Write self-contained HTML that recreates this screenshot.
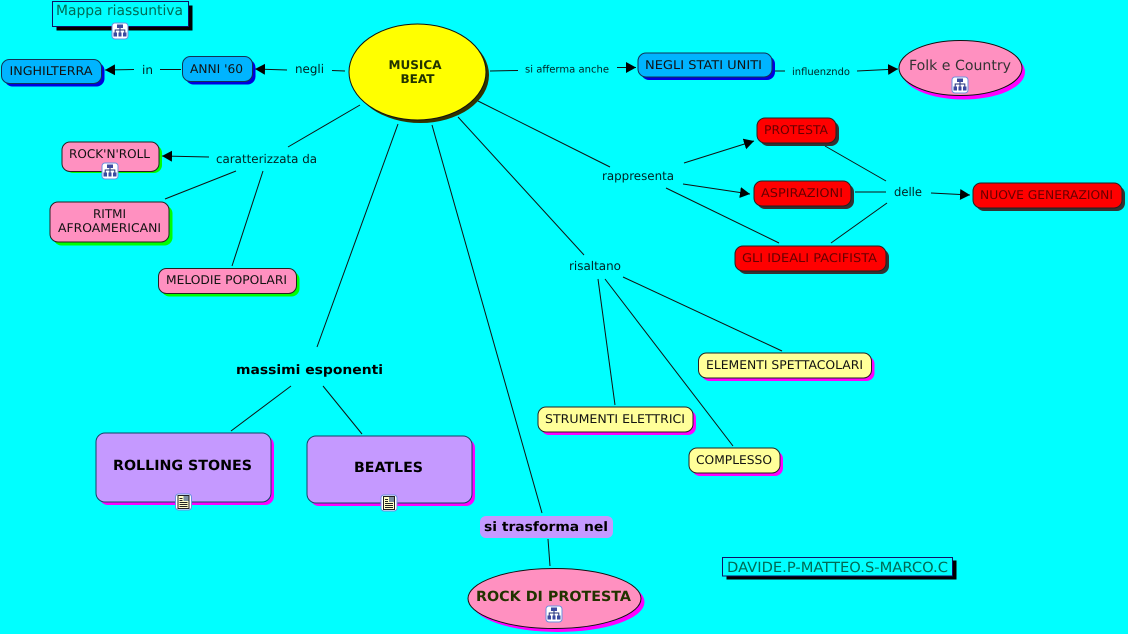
<!DOCTYPE html>
<html><head><meta charset="utf-8"><style>
html,body{margin:0;padding:0;background:#0ff;width:1128px;height:634px;overflow:hidden}
svg{display:block}
text{font-family:"DejaVu Sans",sans-serif;font-size:12px;fill:#111;text-anchor:middle;text-rendering:geometricPrecision}
.l{fill:#022}
.b{font-weight:bold;fill:#000}
line{stroke:#111;stroke-width:1}
.n{stroke:#222;stroke-width:1}
</style></head><body>
<svg width="1128" height="634" viewBox="0 0 1128 634" xmlns="http://www.w3.org/2000/svg">
<defs>
<marker id="a" markerUnits="userSpaceOnUse" markerWidth="12" markerHeight="12" refX="10" refY="5.500" orient="auto"><path d="M0 0L10 5.500L0 11Z" fill="#000"/></marker>
<g id="m"><rect x="-8" y="-8" width="16" height="16" rx="3" fill="#fff" stroke="#6a8fe0"/><path d="M-3-6.500h6v3.500h-6zM-6.500 1.500h3.500v4h-3.500zM-1.500 1.500h3v4h-3zM3 1.500h3.500v4h-3.500z" fill="#3a4aa0"/><path d="M0-3v5M-4.800 1.500v-2.500h9.600v2.500" fill="none" stroke="#22307a"/></g>
<g id="d"><rect x="-8" y="-8" width="16" height="16" rx="3" fill="#fff" stroke="#6a8fe0"/><rect x="-5.500" y="-6.500" width="11" height="13" fill="#ffffc8" stroke="#222"/><rect x="0" y="-6" width="5" height="5" fill="#7a8fa0"/><path d="M-4-3.500h3M-4-1.500h3M-4 .500h8M-4 2.500h8M-4 4.500h8" stroke="#222"/></g>
</defs>
<rect width="1128" height="634" fill="#0ff"/>

<!-- connectors -->
<line x1="345" y1="71" x2="332" y2="70.500"/>
<line x1="287" y1="70" x2="255" y2="69" marker-end="url(#a)"/>
<line x1="181" y1="69.500" x2="160" y2="69.500"/>
<line x1="134" y1="69.500" x2="105" y2="70" marker-end="url(#a)"/>
<line x1="360" y1="105" x2="288" y2="147"/>
<line x1="209" y1="157" x2="162" y2="156" marker-end="url(#a)"/>
<line x1="236" y1="171" x2="165" y2="199"/>
<line x1="263" y1="171" x2="232" y2="266"/>
<line x1="490" y1="71" x2="518" y2="70.500"/>
<line x1="617" y1="67.500" x2="636" y2="67.500" marker-end="url(#a)"/>
<line x1="772" y1="71" x2="785" y2="71"/>
<line x1="857" y1="71" x2="898" y2="69" marker-end="url(#a)"/>
<line x1="478" y1="101" x2="610" y2="167"/>
<line x1="684" y1="163" x2="754" y2="141" marker-end="url(#a)"/>
<line x1="683" y1="184" x2="750" y2="194" marker-end="url(#a)"/>
<line x1="666" y1="188" x2="779" y2="243"/>
<line x1="825" y1="146" x2="886" y2="181"/>
<line x1="855" y1="192" x2="886" y2="192"/>
<line x1="831" y1="243" x2="887" y2="203"/>
<line x1="931" y1="193" x2="970" y2="195" marker-end="url(#a)"/>
<line x1="458" y1="117" x2="584" y2="255"/>
<line x1="623" y1="277" x2="782" y2="351"/>
<line x1="598" y1="279" x2="615" y2="405"/>
<line x1="605" y1="279" x2="733" y2="446"/>
<line x1="398" y1="124" x2="317" y2="347"/>
<line x1="291" y1="386" x2="231" y2="431"/>
<line x1="323" y1="386" x2="362" y2="434"/>
<line x1="432" y1="125" x2="542" y2="513"/>
<line x1="548" y1="539" x2="550" y2="566"/>

<!-- labels -->
<text class="l" x="309.500" y="73" textLength="29" lengthAdjust="spacingAndGlyphs">negli</text>
<text class="l" x="147.500" y="74" textLength="11" lengthAdjust="spacingAndGlyphs">in</text>
<text class="l" x="266.500" y="163" textLength="101" lengthAdjust="spacingAndGlyphs">caratterizzata da</text>
<text class="l" x="567" y="72.500" style="font-size:10px" textLength="84" lengthAdjust="spacingAndGlyphs">si afferma anche</text>
<text class="l" x="821" y="75" style="font-size:10px" textLength="58" lengthAdjust="spacingAndGlyphs">influenzndo</text>
<text class="l" x="638" y="180" textLength="72" lengthAdjust="spacingAndGlyphs">rappresenta</text>
<text class="l" x="908" y="196" textLength="28" lengthAdjust="spacingAndGlyphs">delle</text>
<text class="l" x="595" y="270" textLength="52" lengthAdjust="spacingAndGlyphs">risaltano</text>
<text class="b" x="309.500" y="374" style="font-size:13px" textLength="147" lengthAdjust="spacingAndGlyphs">massimi esponenti</text>

<!-- Mappa riassuntiva -->
<rect x="56.500" y="5.500" width="136" height="25" fill="#000"/>
<rect x="52.500" y="1.500" width="136" height="25" fill="#0ff" stroke="#116"/>
<text x="119.500" y="15" style="font-size:14px;fill:#006a55" textLength="127" lengthAdjust="spacingAndGlyphs">Mappa riassuntiva</text>
<use href="#m" x="120" y="31"/>

<!-- blue -->
<rect x="4.500" y="62.500" width="100" height="24" rx="8" fill="#0000e0"/>
<rect x="1.500" y="59.500" width="100" height="24" rx="8" fill="#00b4ff" stroke="#135"/>
<text x="51" y="75" textLength="83" lengthAdjust="spacingAndGlyphs">INGHILTERRA</text>
<rect x="185.500" y="59.500" width="70" height="25" rx="8" fill="#0000e0"/>
<rect x="182.500" y="56.500" width="70" height="25" rx="8" fill="#00b4ff" stroke="#135"/>
<text x="216.500" y="73" textLength="53" lengthAdjust="spacingAndGlyphs">ANNI '60</text>
<rect x="641" y="56" width="134" height="24" rx="8" fill="#0000e0"/>
<rect x="638" y="53" width="134" height="24" rx="8" fill="#00b4ff" stroke="#135"/>
<text x="703.500" y="69" textLength="117" lengthAdjust="spacingAndGlyphs">NEGLI STATI UNITI</text>

<!-- pink green-shadow -->
<rect x="65" y="145" width="97" height="28" rx="8" fill="#00ff00"/>
<rect x="62" y="142" width="97" height="29.500" rx="8" fill="#ff90c0" class="n"/>
<text x="109.500" y="158" textLength="81" lengthAdjust="spacingAndGlyphs">ROCK'N'ROLL</text>
<use href="#m" x="110" y="171"/>
<rect x="53.500" y="205.500" width="119" height="40" rx="8" fill="#00ff00"/>
<rect x="50" y="202" width="119" height="40" rx="8" fill="#ff90c0" class="n"/>
<text x="109.500" y="218">RITMI</text>
<text x="109.500" y="232" textLength="103" lengthAdjust="spacingAndGlyphs">AFROAMERICANI</text>
<rect x="161.500" y="271.500" width="138" height="25" rx="8" fill="#00ff00"/>
<rect x="158.500" y="268.500" width="138" height="25" rx="8" fill="#ff90c0" class="n"/>
<text x="226.500" y="284" textLength="121" lengthAdjust="spacingAndGlyphs">MELODIE POPOLARI</text>

<!-- main -->
<ellipse cx="420.500" cy="75" rx="68.500" ry="48" fill="#333300"/>
<ellipse cx="417.500" cy="72" rx="68.500" ry="48" fill="#ffff00" stroke="#111"/>
<text class="b" x="415" y="69" style="font-size:12px;fill:#223300" textLength="53" lengthAdjust="spacingAndGlyphs">MUSICA</text>
<text class="b" x="417.500" y="83" style="font-size:12px;fill:#223300" textLength="34" lengthAdjust="spacingAndGlyphs">BEAT</text>

<!-- Folk -->
<ellipse cx="963.500" cy="72" rx="61.500" ry="27.500" fill="#ff00ff"/>
<ellipse cx="960.500" cy="68" rx="61.500" ry="27.500" fill="#ff90c0" stroke="#111"/>
<text x="960" y="70" style="font-size:14px;fill:#333" textLength="102" lengthAdjust="spacingAndGlyphs">Folk e Country</text>
<use href="#m" x="960" y="85"/>

<!-- red -->
<rect x="760" y="121" width="79" height="25" rx="8" fill="#333"/>
<rect x="757" y="118" width="79" height="25" rx="8" fill="#ff0000" class="n"/>
<text x="796" y="134" style="fill:#600" textLength="64" lengthAdjust="spacingAndGlyphs">PROTESTA</text>
<rect x="757" y="184" width="97" height="25" rx="8" fill="#333"/>
<rect x="754" y="181" width="97" height="25" rx="8" fill="#ff0000" class="n"/>
<text x="802" y="197" style="fill:#600" textLength="82" lengthAdjust="spacingAndGlyphs">ASPIRAZIONI</text>
<rect x="976" y="186" width="149" height="25" rx="8" fill="#333"/>
<rect x="973" y="183" width="149" height="25" rx="8" fill="#ff0000" class="n"/>
<text x="1046.500" y="199" style="fill:#600" textLength="133" lengthAdjust="spacingAndGlyphs">NUOVE GENERAZIONI</text>
<rect x="738" y="249" width="151" height="25" rx="8" fill="#333"/>
<rect x="735" y="246" width="151" height="25" rx="8" fill="#ff0000" class="n"/>
<text x="809.500" y="262" style="fill:#600" textLength="135" lengthAdjust="spacingAndGlyphs">GLI IDEALI PACIFISTA</text>

<!-- yellow -->
<rect x="701.500" y="356" width="173" height="25" rx="8" fill="#ff00ff"/>
<rect x="698.500" y="353" width="173" height="25" rx="8" fill="#ffff99" class="n"/>
<text x="784.500" y="369" textLength="157" lengthAdjust="spacingAndGlyphs">ELEMENTI SPETTACOLARI</text>
<rect x="541" y="410" width="155" height="25" rx="8" fill="#ff00ff"/>
<rect x="538" y="407" width="155" height="25" rx="8" fill="#ffff99" class="n"/>
<text x="615" y="423" textLength="140" lengthAdjust="spacingAndGlyphs">STRUMENTI ELETTRICI</text>
<rect x="692" y="451" width="91" height="25" rx="8" fill="#ff00ff"/>
<rect x="689" y="448" width="91" height="25" rx="8" fill="#ffff99" class="n"/>
<text x="734" y="464" textLength="76" lengthAdjust="spacingAndGlyphs">COMPLESSO</text>

<!-- purple -->
<rect x="99" y="436" width="175" height="69" rx="9" fill="#ff00ff"/>
<rect x="96" y="433" width="175" height="69" rx="9" fill="#c599ff" stroke="#146"/>
<text class="b" x="182.500" y="470" style="font-size:14px" textLength="139" lengthAdjust="spacingAndGlyphs">ROLLING STONES</text>
<use href="#d" x="183.500" y="502"/>
<rect x="310" y="439" width="165" height="67" rx="9" fill="#ff00ff"/>
<rect x="307" y="436" width="165" height="67" rx="9" fill="#c599ff" stroke="#146"/>
<text class="b" x="388.500" y="472" style="font-size:14px" textLength="69" lengthAdjust="spacingAndGlyphs">BEATLES</text>
<use href="#d" x="389" y="503"/>
<rect x="480" y="516" width="133" height="22" rx="6" fill="#c599ff"/>
<text class="b" x="546" y="531" style="font-size:13px" textLength="124" lengthAdjust="spacingAndGlyphs">si trasforma nel</text>

<!-- rock di protesta -->
<ellipse cx="558" cy="602" rx="86.500" ry="30" fill="#ff00ff"/>
<ellipse cx="554.500" cy="598.500" rx="86.500" ry="30" fill="#ff90c0" stroke="#111"/>
<text class="b" x="553.500" y="601" style="font-size:14px;fill:#223300" textLength="155" lengthAdjust="spacingAndGlyphs">ROCK DI PROTESTA</text>
<use href="#m" x="554" y="614"/>

<!-- credit -->
<rect x="726.500" y="560.500" width="230" height="19" fill="#000"/>
<rect x="722.500" y="557.500" width="230" height="18.500" fill="#0ff" stroke="#116"/>
<text x="837.500" y="572" style="font-size:14px;fill:#006a55" textLength="221" lengthAdjust="spacingAndGlyphs">DAVIDE.P-MATTEO.S-MARCO.C</text>
</svg>
</body></html>
